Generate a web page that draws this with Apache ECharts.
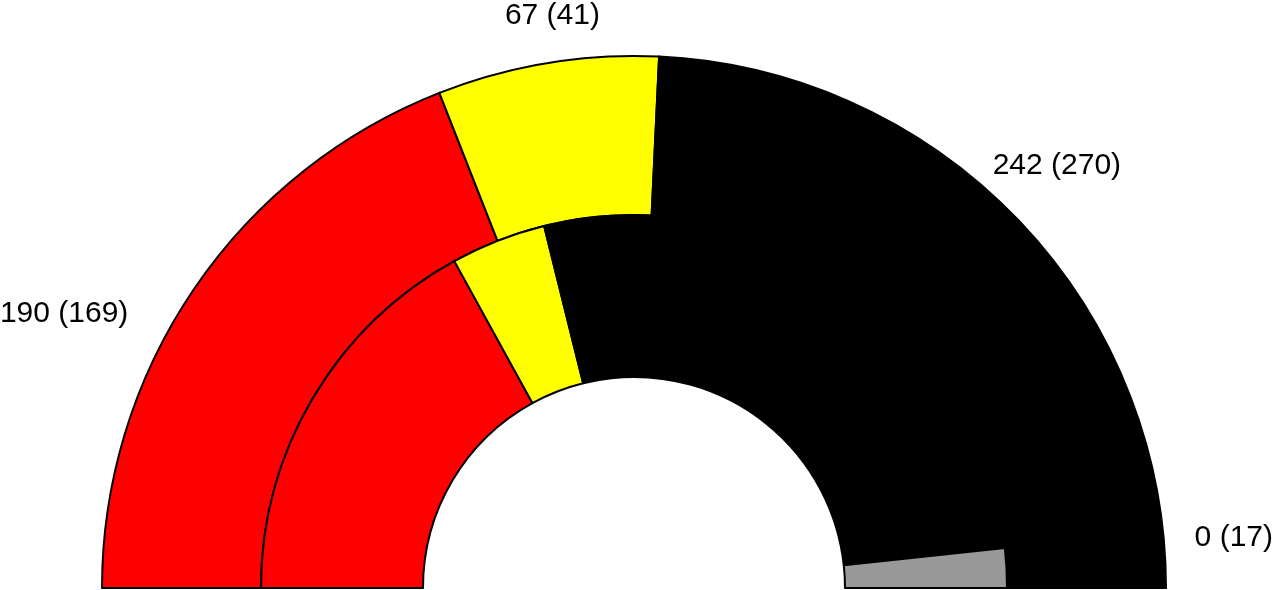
<!DOCTYPE html>
<html>
<head>
<meta charset="utf-8">
<style>
  html, body { margin: 0; padding: 0; background: #fff; }
  #chart { width: 1273px; height: 590px; }
</style>
<script src="https://cdn.jsdelivr.net/npm/echarts@6/dist/echarts.min.js"></script>
</head>
<body>
<div id="chart"></div>
<script>
const parties = ['Red', 'Yellow', 'Black', 'Grey']
const colors = ['#ff0000', '#ffff00', '#000000', '#999999']
const seatsNow = [190, 67, 242, 0]
const seatsBefore = [169, 41, 270, 17]

const cx = 634
const cy = 588
// where each label sits, as angle (deg) and distance from the centre
const labelAngle = [154.2, 98.1, 45.0, 4.9]
const labelDist = [633, 579, 598, 602]

const chart = echarts.init(document.getElementById('chart'))

function ring(values, radius, showLabel) {
  return {
    type: 'pie',
    center: [cx, cy],
    radius: radius,
    startAngle: 180,
    endAngle: 0,
    clockwise: true,
    animation: false,
    silent: true,
    itemStyle: {
      borderColor: '#000',
      borderWidth: 2,
    },
    label: {
      show: showLabel,
      position: 'outside',
      color: '#000',
      fontSize: 30,
      fontFamily: 'Liberation Sans, Arial, sans-serif',
      overflow: 'none',
      formatter: p => seatsNow[p.dataIndex] + ' (' + seatsBefore[p.dataIndex] + ')',
    },
    labelLine: { show: false },
    labelLayout: showLabel
      ? params => {
          const a = (labelAngle[params.dataIndex] * Math.PI) / 180
          const d = labelDist[params.dataIndex]
          return {
            x: cx + d * Math.cos(a),
            y: cy - d * Math.sin(a) + 1,
            align: 'center',
            verticalAlign: 'middle',
          }
        }
      : null,
    data: values.map((v, i) => ({
      name: parties[i],
      value: v,
      itemStyle: { color: colors[i] },
    })),
  }
}

chart.setOption({
  series: [
    ring(seatsNow, [373, 532], true),
    ring(seatsBefore, [211, 373], false),
  ],
})
</script>
</body>
</html>
